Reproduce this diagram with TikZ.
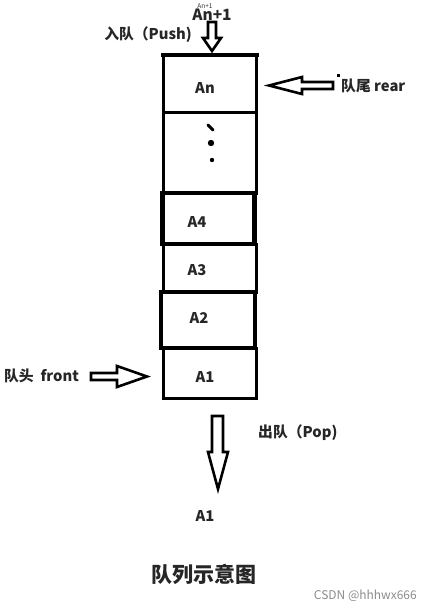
\documentclass[tikz,border=0pt]{standalone}
\usepackage{fontspec}
\setmainfont{Noto Sans CJK SC}
\begin{document}
\begin{tikzpicture}[x=1pt,y=-1pt,
  cell/.style={draw,line width=3pt,minimum width=93pt,inner sep=0pt},
  thickcell/.style={draw,line width=4.5pt,minimum width=92pt,inner sep=0pt},
  lbl/.style={font=\fontsize{14.8}{17}\selectfont\bfseries,text=black!85,inner sep=0pt},
  blockarrow/.style={draw,line width=2.6pt,line join=miter,fill=white}]
\useasboundingbox (0,0) rectangle (431,611);
% cells
\node[cell,minimum height=57pt] (cn) at (209.5,83.5) {};
\node[cell,minimum height=81pt] (cdots) at (209.5,152.5) {};
\node[cell,minimum height=48pt] (c3) at (209.5,268) {};
\node[cell,minimum height=50pt] (c1) at (209.5,373) {};
\node[thickcell,minimum height=51pt] (c4) at (208.5,218.5) {};
\node[thickcell,minimum height=56pt,minimum width=94pt] (c2) at (208,320) {};
\draw[line width=4.5pt] (161,55) -- (259,55);
% cell texts
\node[lbl] (tn) at (205,88) {An};
\node[lbl] (t4) at (197,222) {A4};
\node[lbl] (t3) at (197,270) {A3};
\node[lbl] (t2) at (199,318) {A2};
\node[lbl] (t1) at (205,377) {A1};
% dots
\draw[line width=3pt,line cap=round] (208,125) -- (213,130);
\fill (211,143) circle (3.2pt);
\fill (212,160) circle (2.2pt);
% push arrow
\draw[blockarrow] (208,22) -- (216,22) -- (216,38) -- (221,38) -- (212,51) -- (203,38) -- (208,38) -- cycle;
\node[lbl,font=\fontsize{15.5}{17}\selectfont\bfseries] (anp1) at (212,15) {An+1};
\node[inner sep=0pt,font=\fontsize{6.5}{7}\selectfont,text=black!80] (anp1s) at (205,6) {An+1};
\node[lbl] (push) at (148,35) {入队（Push)};
% rear arrow
\draw[blockarrow] (333,82) -- (302,82) -- (302,77) -- (269,85.5) -- (302,94) -- (302,89) -- (333,89) -- cycle;
\fill (336.5,73.5) rectangle (339.5,76.5);
\node[lbl,anchor=west] (rear) at (341,86) {队尾 rear};
% front arrow
\draw[blockarrow] (91,373) -- (117,373) -- (117,366) -- (147,376.5) -- (117,387) -- (117,380) -- (91,380) -- cycle;
\node[lbl,anchor=west] (front) at (4,376) {队头\ \ front};
% pop arrow
\draw[blockarrow] (212,416) -- (223,416) -- (223,452) -- (228,452) -- (218,489) -- (208,452) -- (212,452) -- cycle;
\node[lbl,anchor=west] (pop) at (258,433) {出队（Pop)};
\node[lbl] (out) at (205,516) {A1};
% title
\node[inner sep=0pt,font=\fontsize{21}{23}\selectfont\bfseries,text=black!85] (title) at (204,574) {队列示意图};
\node[inner sep=0pt,anchor=east,font=\fontsize{12}{14}\selectfont,text=black!45] (csdn) at (417,596) {CSDN @hhhwx666};
\end{tikzpicture}
\end{document}
